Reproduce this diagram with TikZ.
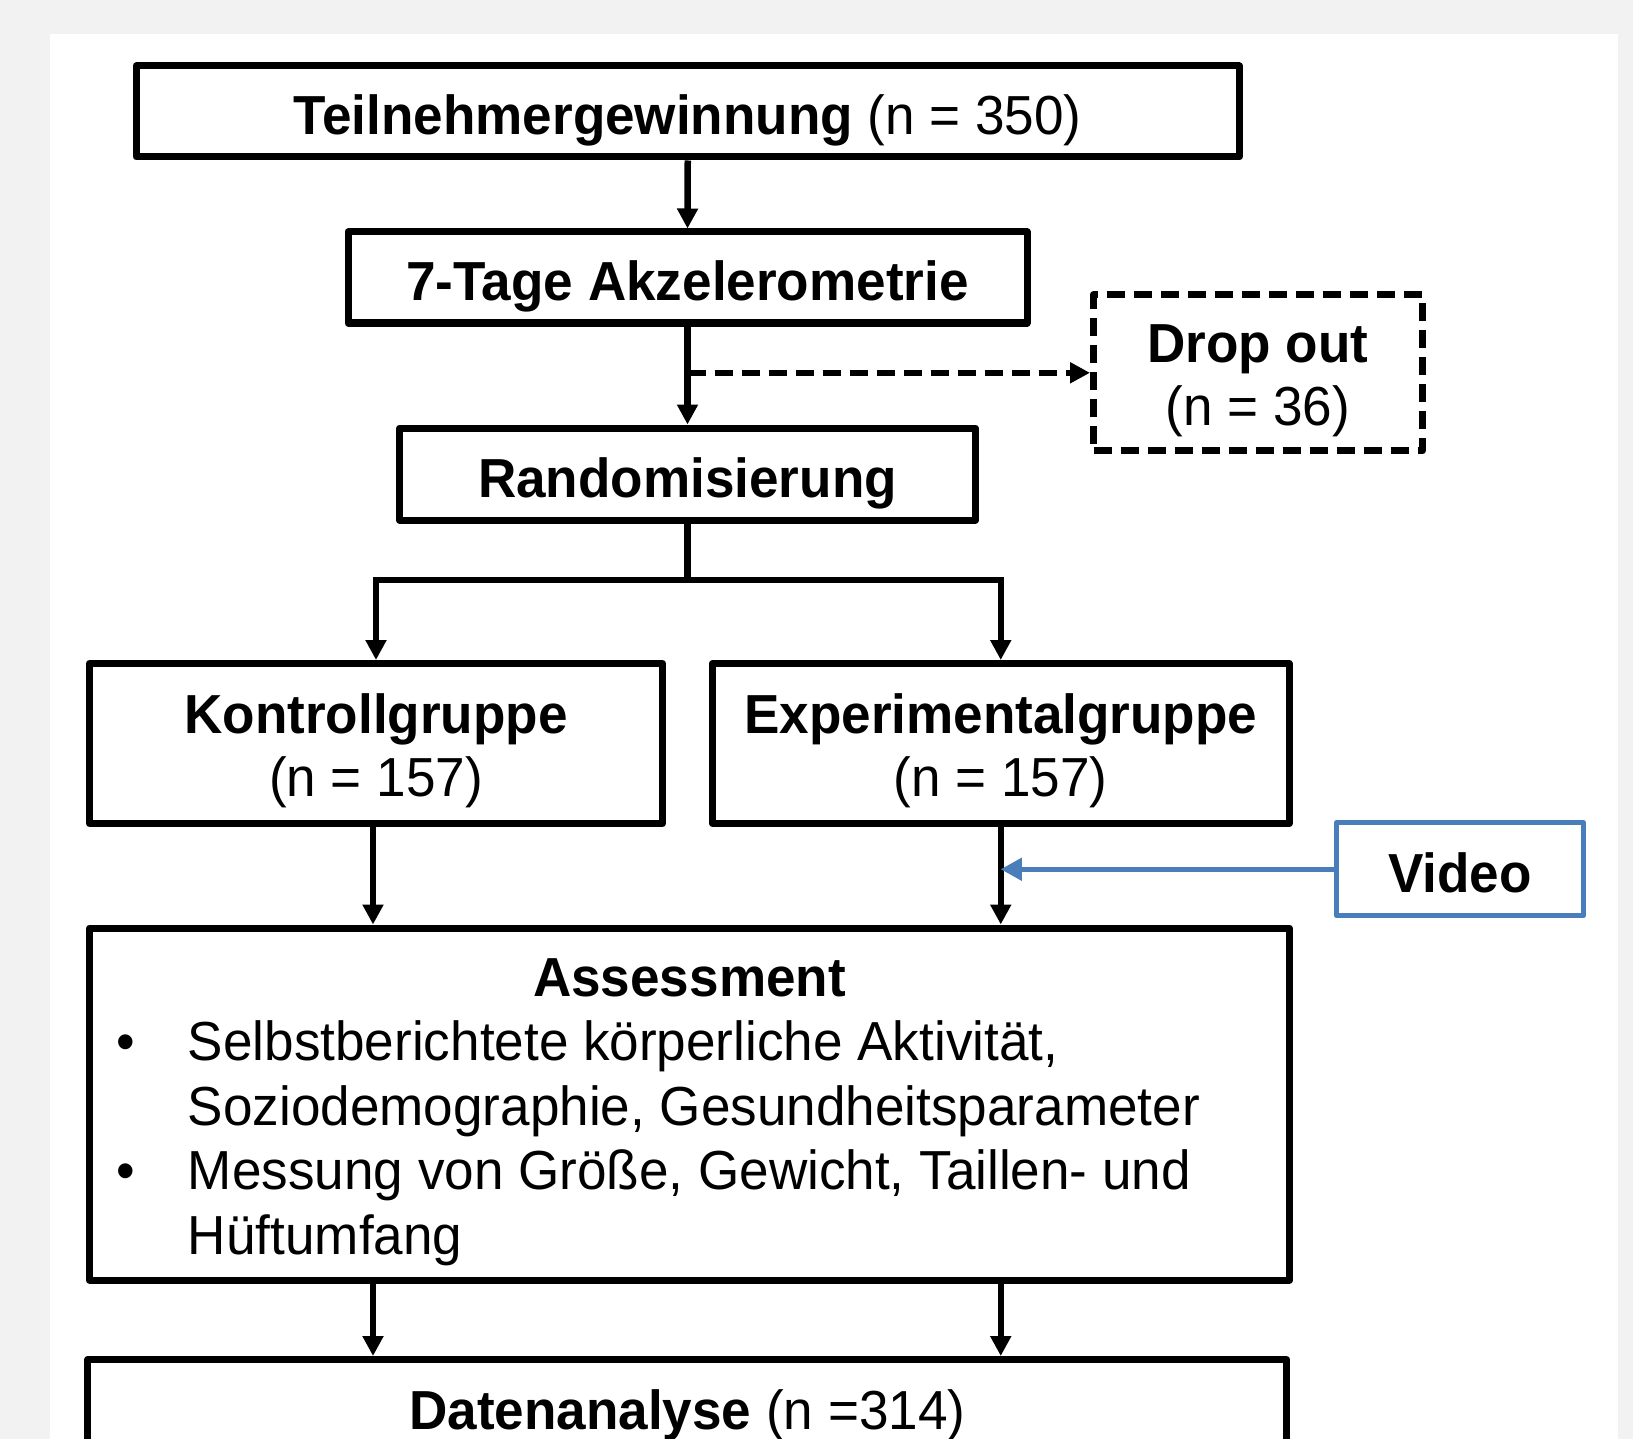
\documentclass[tikz,border=0pt]{standalone}
\usepackage{fontspec}
\setmainfont[FakeStretch=0.965]{Liberation Sans}
\usetikzlibrary{arrows.meta}
\definecolor{bggray}{HTML}{F2F2F2}
\definecolor{vblue}{HTML}{4A7EBB}
\newcommand\sgl{\rule[-14pt]{0pt}{74.6pt}}
\newcommand\ftop{\rule{0pt}{56.6pt}}
\newcommand\fbot{\rule[-14pt]{0pt}{14pt}}
\begin{document}
\begin{tikzpicture}[x=1pt,y=-1pt,
  every node/.style={font=\fontsize{55}{63.5}\selectfont},
  box/.style={draw=black,line width=7pt,line join=round,inner sep=0pt,align=center},
  dbox/.style={box,dash pattern=on 18pt off 9pt},
  vbox/.style={draw=vblue,line width=5pt,line join=round,inner sep=0pt,align=center},
  conn/.style={draw=black,line width=6.5pt},
  arr/.style={conn,-{Triangle[length=20pt,width=20pt]}},
  darr/.style={arr,dash pattern=on 18pt off 9pt},
  varr/.style={draw=vblue,line width=4.5pt,-{Triangle[length=21pt,width=22pt]}}]
\useasboundingbox (0,0) rectangle (1633,1439);
\clip (0,0) rectangle (1633,1439);
\fill[bggray] (0,0) rectangle (1633,1439);
\fill[white] (50,34) rectangle (1618,1460);

\node[box,minimum width=1103pt,minimum height=91pt] (t1) at (687.75,111.5)
  {\sgl\textbf{Teilnehmergewinnung} (n = 350)};
\node[box,minimum width=679pt,minimum height=91pt] (t2) at (687.5,277.5)
  {\sgl\textbf{7-Tage Akzelerometrie}};
\node[dbox,minimum width=329pt,minimum height=156pt] (drop) at (1258,372.8)
  {\ftop\textbf{Drop out}\\(n = 36)\fbot};
\node[box,minimum width=576pt,minimum height=92pt] (rand) at (687.5,474)
  {\sgl\textbf{Randomisierung}};
\node[box,minimum width=573pt,minimum height=160pt] (kon) at (376,743.5)
  {\ftop\textbf{Kontrollgruppe}\\(n = 157)\fbot};
\node[box,minimum width=577pt,minimum height=160pt] (exp) at (1000.75,743.5)
  {\ftop\textbf{Experimentalgruppe}\\(n = 157)\fbot};
\node[vbox,minimum width=247pt,minimum height=93pt] (vid) at (1460,869.25)
  {\sgl\textbf{Video}};
\node[box,inner xsep=27pt,inner ysep=0pt,text width=1146pt,minimum height=352pt,align=none] (ass) at (689.5,1104)
  {\fontsize{55}{64.5}\selectfont
   {\centering\ftop\textbf{Assessment}\par}
   \raggedright
   \noindent\hangindent=71.5pt\hangafter=1\makebox[71.5pt][l]{•}Selbstberichtete körperliche Aktivität,\break Soziodemographie, Gesundheitsparameter\par
   \noindent\hangindent=71.5pt\hangafter=1\makebox[71.5pt][l]{•}Messung von Größe, Gewicht, Taillen- und\break Hüftumfang\fbot\par};
\node[box,minimum width=1199pt,minimum height=93pt] (dat) at (687.25,1406)
  {\sgl\textbf{Datenanalyse} (n =314)};

\coordinate (split) at (687.5,580);
\draw[arr] (t1.south) -- (t2.north);
\draw[arr] (t2.south) -- (rand.north);
\draw[darr] (t2.south |- drop.west) -- (drop.west);
\draw[conn] (rand.south) -- (split);
\draw[arr] (split) -| (kon.north);
\draw[arr] (split) -| (exp.north);
\draw[arr] ([xshift=-3pt]kon.south) -- ([xshift=-3pt]kon.south |- ass.north);
\draw[arr] (exp.south) -- (exp.south |- ass.north);
\draw[varr] (vid.west) -- (vid.west -| exp.south);
\draw[arr] ([xshift=-3pt]kon.south |- ass.south) -- ([xshift=-3pt]kon.south |- dat.north);
\draw[arr] (exp.south |- ass.south) -- (exp.south |- dat.north);
\end{tikzpicture}
\end{document}
